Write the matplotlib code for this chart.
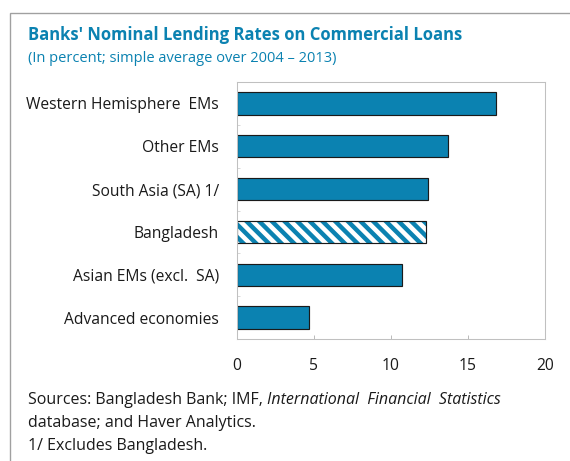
import matplotlib.pyplot as plt
from matplotlib.patches import Rectangle

# data, top to bottom as in the chart
categories = ['Western Hemisphere  EMs', 'Other EMs', 'South Asia (SA) 1/',
              'Bangladesh', 'Asian EMs (excl.  SA)', 'Advanced economies']
rates = [16.8, 13.7, 12.4, 12.3, 10.7, 4.65]
hatched = [False, False, False, True, False, False]
xticks = [0, 5, 10, 15, 20]

blue = '#0b82b1'
dpi = 76
W, H = 570, 461
plt.rcParams['font.family'] = ['Open Sans', 'DejaVu Sans']
plt.rcParams['hatch.linewidth'] = 4.2

fig = plt.figure(figsize=(W / dpi, H / dpi), dpi=dpi)

# outer frame of the figure box
fig.patches.append(Rectangle((10 / W, -0.1), 1.2, 1 - 13 / H + 0.1, transform=fig.transFigure,
                             fill=False, edgecolor='#a0a0a0', linewidth=1.3))

ax = fig.add_axes([237 / W, 1 - 339 / H, (545 - 237) / W, (339 - 82) / H])
ypos = list(range(len(categories)))
for y, v, h in zip(ypos, rates, hatched):
    if h:
        ax.barh(y, v, height=0.52, color='white', edgecolor=blue, hatch='\\\\', linewidth=0)
        ax.barh(y, v, height=0.52, fill=False, edgecolor='#1a1a1a', linewidth=1.1)
    else:
        ax.barh(y, v, height=0.52, color=blue, edgecolor='#1a1a1a', linewidth=1.1)

fs = 14.8
ax.set_ylim(len(categories) - 0.5, -0.5)
ax.set_xlim(0, 20)
ax.set_yticks(ypos)
ax.set_yticklabels(categories, fontsize=fs, color='#1a1a1a')
ax.set_yticks([i + 0.5 for i in range(len(categories) - 1)], minor=True)
ax.tick_params(axis='y', which='major', length=0, pad=17)
ax.tick_params(axis='y', which='minor', length=3, direction='in', color='#c0c0c0')
ax.set_xticks(xticks)
ax.set_xticklabels([str(t) for t in xticks], fontsize=fs, color='#1a1a1a')
ax.tick_params(axis='x', length=4, direction='in', color='#b0b0b0', pad=18)
for s in ax.spines.values():
    s.set_color('#c0c0c0')
    s.set_linewidth(1)

fig.text(28 / W, 1 - 35 / H, "Banks' Nominal Lending Rates on Commercial Loans",
         fontsize=15.8, fontweight='bold', color=blue, va='center')
fig.text(28 / W, 1 - 58 / H, '(In percent; simple average over 2004 \u2013 2013)',
         fontsize=13.9, color=blue, va='center')

ffs = 15.2
t1 = fig.text(28 / W, 1 - 400 / H, 'Sources: Bangladesh Bank; IMF, ',
              fontsize=ffs, color='#1a1a1a', va='center')
fig.canvas.draw()
bb = t1.get_window_extent()
fig.text(bb.x1 / W, 1 - 400 / H, 'International  Financial  Statistics',
         fontsize=ffs, style='italic', color='#1a1a1a', va='center')
fig.text(28 / W, 1 - 423 / H, 'database; and Haver Analytics.',
         fontsize=ffs, color='#1a1a1a', va='center')
fig.text(28 / W, 1 - 446 / H, '1/ Excludes Bangladesh.',
         fontsize=ffs, color='#1a1a1a', va='center')

fig.savefig('out.png', dpi=dpi)
